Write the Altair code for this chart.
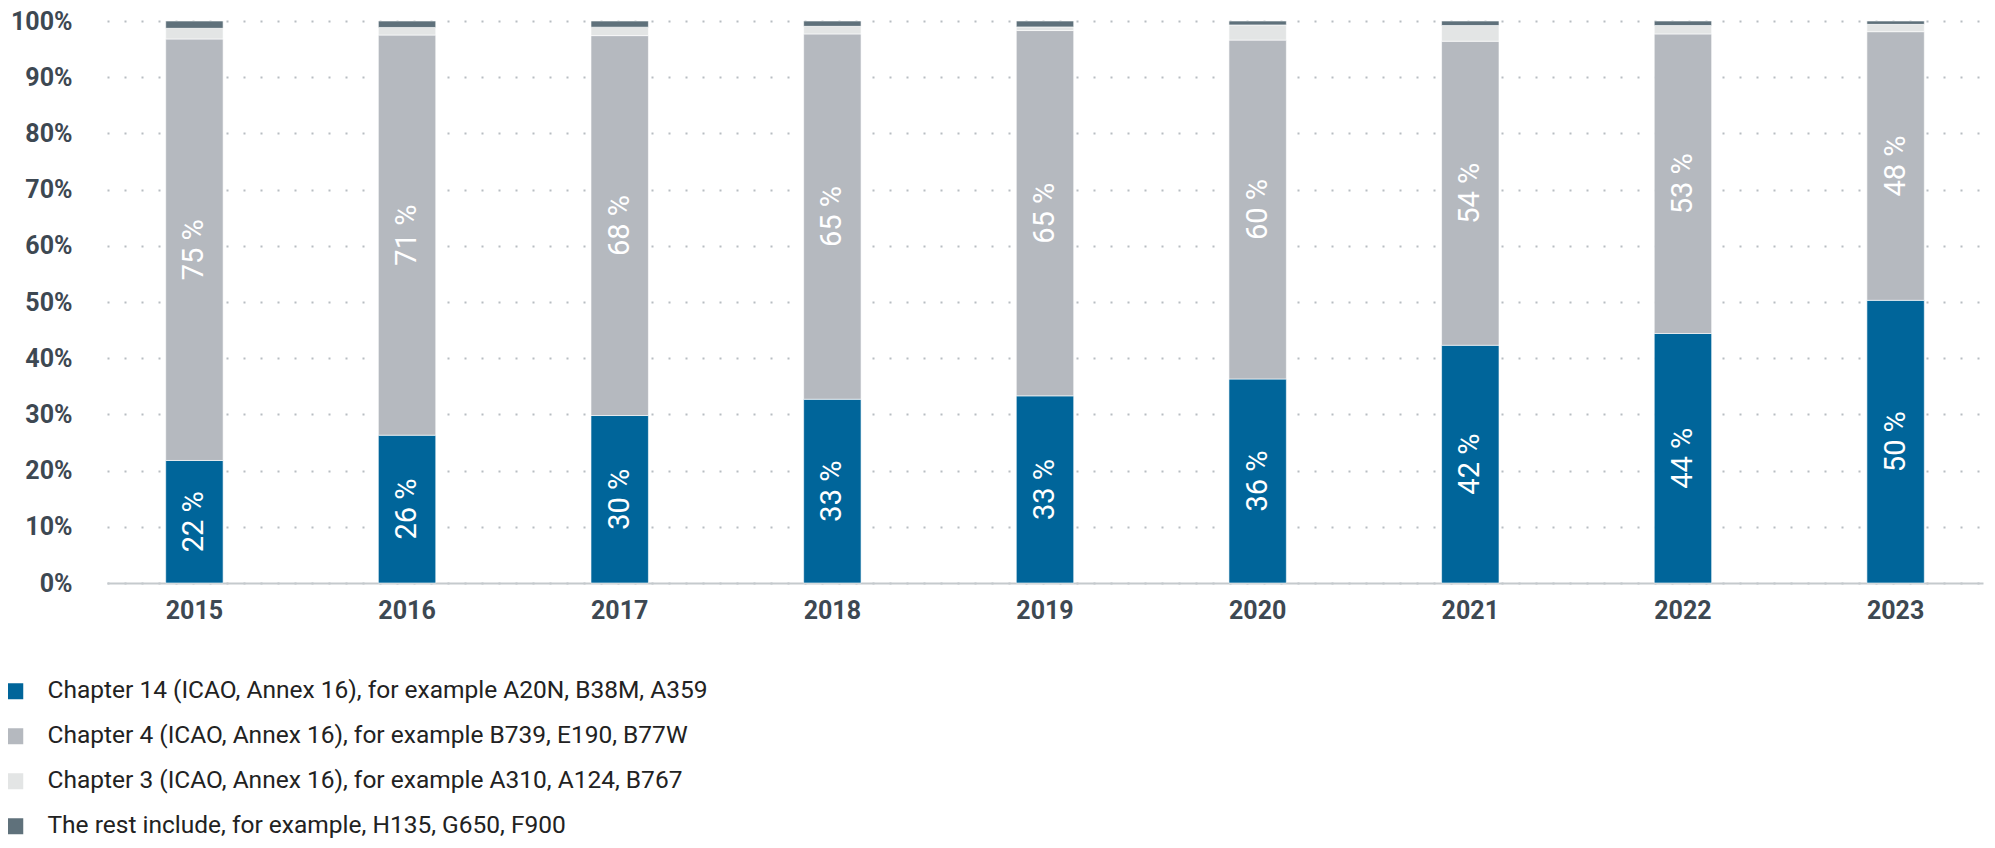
import altair as alt
import pandas as pd

years = ["2015", "2016", "2017", "2018", "2019", "2020", "2021", "2022", "2023"]
categories = [
    "Chapter 14 (ICAO, Annex 16), for example A20N, B38M, A359",
    "Chapter 4 (ICAO, Annex 16), for example B739, E190, B77W",
    "Chapter 3 (ICAO, Annex 16), for example A310, A124, B767",
    "The rest include, for example, H135, G650, F900",
]
ch14 = [21.8, 26.3, 29.8, 32.7, 33.3, 36.3, 42.3, 44.4, 50.3]
ch4 = [75.0, 71.2, 67.6, 65.0, 65.0, 60.3, 54.1, 53.3, 47.8]
ch3 = [1.9, 1.35, 1.5, 1.35, 0.65, 2.7, 2.8, 1.5, 1.3]
rest = [1.3, 1.15, 1.1, 0.95, 1.05, 0.7, 0.8, 0.8, 0.6]
ch14_labels = ["22 %", "26 %", "30 %", "33 %", "33 %", "36 %", "42 %", "44 %", "50 %"]
ch4_labels = ["75 %", "71 %", "68 %", "65 %", "65 %", "60 %", "54 %", "53 %", "48 %"]
colors = ["#00659a", "#b5b9bf", "#e3e5e5", "#5f717b"]

series = [ch14, ch4, ch3, rest]
labels = [ch14_labels, ch4_labels, None, None]
rows = []
for i, yr in enumerate(years):
    for k, cat in enumerate(categories):
        rows.append({
            "year": yr,
            "cat": cat,
            "order": k,
            "value": series[k][i],
            "label": labels[k][i] if labels[k] else "",
        })
df = pd.DataFrame(rows)

FONT = "Roboto"
AXIS_COLOR = "#3d4852"

x_enc = alt.X(
    "year:N",
    sort=years,
    scale=alt.Scale(paddingInner=0.73, paddingOuter=0.276),
    axis=alt.Axis(
        title=None, labelAngle=0, ticks=False, domainColor="#c5cacd", domainWidth=2,
        labelFontSize=25, labelFontWeight="bold", labelColor=AXIS_COLOR, labelFont=FONT,
        labelPadding=15, grid=False,
    ),
)

base = alt.Chart(df)

bars = base.mark_bar(stroke="white", strokeWidth=0.6).encode(
    x=x_enc,
    y=alt.Y(
        "value:Q", stack="zero",
        scale=alt.Scale(domain=[0, 100], nice=False),
        axis=alt.Axis(
            title=None, values=list(range(0, 101, 10)), labelExpr="datum.value + '%'",
            domain=False, ticks=False, labelPadding=35, labelFontSize=25,
            labelFontWeight="bold", labelColor=AXIS_COLOR, labelFont=FONT,
            gridDash=[2, 15], gridColor="#b8bdc2", gridWidth=2,
        ),
    ),
    color=alt.Color(
        "cat:N",
        scale=alt.Scale(domain=categories, range=colors),
        legend=alt.Legend(
            title=None, orient="none", legendX=-104, legendY=658, direction="vertical",
            symbolType="square", symbolSize=256, symbolStrokeWidth=0, symbolOpacity=1,
            labelFontSize=24.5, labelFont=FONT, labelColor="#222222", labelOffset=20,
            rowPadding=20, labelLimit=1000,
        ),
    ),
    order=alt.Order("order:Q"),
)

text = base.transform_stack(
    stack="value", groupby=["year"], as_=["v0", "v1"], sort=[alt.SortField("order")]
).transform_calculate(
    mid="(datum.v0 + datum.v1) / 2"
).transform_filter(
    "datum.label != ''"
).mark_text(
    angle=270, color="white", fontSize=29, font=FONT, baseline="middle", align="center"
).encode(
    x=alt.X("year:N", sort=years),
    y=alt.Y("mid:Q"),
    text="label:N",
)

chart = alt.layer(bars, text).properties(
    width=1876, height=562,
    autosize=alt.AutoSizeParams(type="none"),
    padding={"left": 99, "top": 13, "right": 4, "bottom": 257},
).configure_view(stroke=None)

chart.save("out.html", embed_options={"renderer": "svg", "actions": False})
